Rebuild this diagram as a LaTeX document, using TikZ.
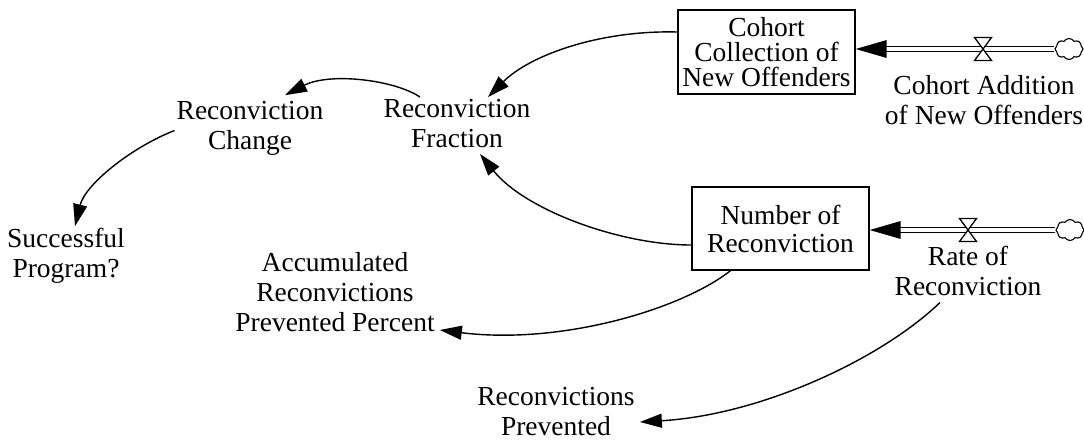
\documentclass[tikz,border=0pt]{standalone}
\usepackage{fontspec}
\setmainfont{Liberation Serif}
\usetikzlibrary{arrows.meta,shapes.symbols}
\begin{document}
\begin{tikzpicture}[x=1pt,y=-1pt,
  every node/.style={font=\fontsize{27.5}{30}\selectfont, align=center, inner sep=2pt},
  stock/.style={draw, line width=1.4pt, minimum width=177pt, inner sep=0pt},
  link/.style={line width=1.4pt, -{Triangle[length=22pt,width=14pt]}},
  pipe/.style={double, double distance=4pt, line width=1.4pt},
  valvebody/.style={draw, fill=white, line width=1.3pt},
  source/.style={cloud, draw, cloud puffs=8, cloud puff arc=120, minimum width=28pt,
    minimum height=21pt, inner sep=0pt, line width=1.1pt, fill=white},
]
\useasboundingbox (0,0) rectangle (1084,445);

% stocks
\node[stock, minimum height=84pt, font=\fontsize{27.5}{25}\selectfont] (coh) at (766.5,52)
  {Cohort\\Collection of\\New Offenders};
\node[stock, minimum height=83pt, font=\fontsize{27.5}{28}\selectfont] (num) at (780.5,228.5)
  {Number of\\Reconviction};

% auxiliary variables
\node (frac) at (457,123.5) {Reconviction\\Fraction};
\node (chg)  at (250,128.5) {Reconviction\\Change};
\node (succ) at (66,256)    {Successful\\Program?};
\node (acc)  at (335,292)   {Accumulated\\Reconvictions\\Prevented Percent};
\node (prev) at (556,412)   {Reconvictions\\Prevented};

% flow labels
\node (add)  at (984,100.5) {Cohort Addition\\of New Offenders};
\node (rate) at (968,270.5) {Rate of\\Reconviction};

% inflow to the cohort stock
\coordinate (vt) at (983,49);
\node[source] (ct) at (1069,49) {};
\draw[pipe, shorten >=28pt] (ct.west) -- (coh.east |- vt);
\fill (coh.east |- vt) -- ++(31,-9) -- ++(0,18) -- cycle;
\path[valvebody] (vt) ++(-8.5,-11.5) -- ++(17,0) -- ++(-17,23) -- ++(17,0) -- cycle;

% inflow to the reconviction stock
\coordinate (vb) at (968,230);
\node[source] (cb) at (1070,230) {};
\draw[pipe, shorten >=28pt] (cb.west) -- (num.east |- vb);
\fill (num.east |- vb) -- ++(31,-9) -- ++(0,18) -- cycle;
\path[valvebody] (vb) ++(-8.5,-11.5) -- ++(17,0) -- ++(-17,23) -- ++(17,0) -- cycle;

% causal links
\draw[link] ([yshift=20pt]coh.west) .. controls (600,30) and (530,55) .. ([xshift=31pt]frac.north);
\draw[link] ([xshift=-37pt]frac.north) .. controls (395,80) and (330,72) .. ([xshift=35pt,yshift=4pt]chg.north);
\draw[link] ([yshift=-2pt]chg.west) .. controls (130,148) and (85,185) .. ([xshift=9pt]succ.north);
\draw[link] ([yshift=-16.5pt]num.west) .. controls (620,245) and (525,210) .. ([xshift=23pt,yshift=-4pt]frac.south);
\draw[link] ([xshift=-50pt]num.south) .. controls (680,310) and (560,345) .. ([xshift=3pt,yshift=-38pt]acc.east);
\draw[link] ([xshift=-28pt,yshift=-5pt]rate.south) .. controls (880,360) and (760,415) .. ([xshift=3pt,yshift=-10pt]prev.east);
\end{tikzpicture}
\end{document}
